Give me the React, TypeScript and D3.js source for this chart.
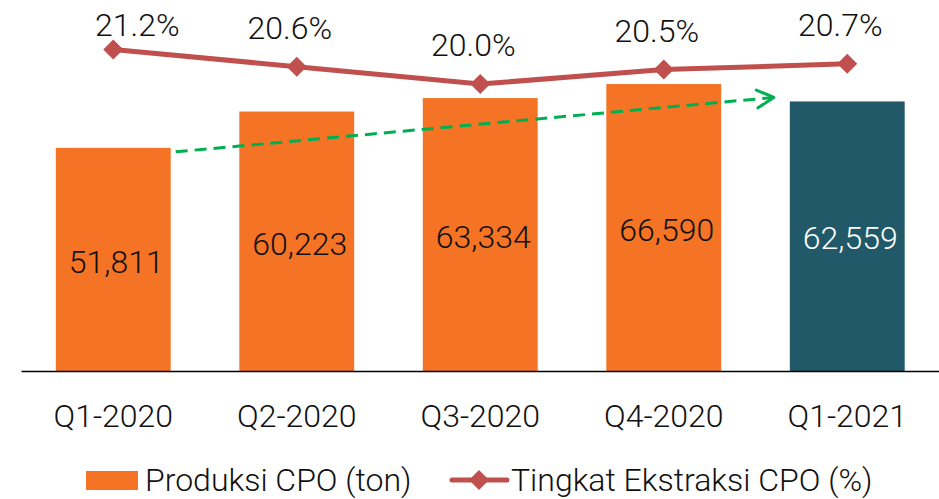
import * as d3 from 'd3'

const quarters = ['Q1-2020', 'Q2-2020', 'Q3-2020', 'Q4-2020', 'Q1-2021']
const production = [51811, 60223, 63334, 66590, 62559]
const extraction = [21.2, 20.6, 20.0, 20.5, 20.7]

const W = 939
const H = 499
const baseY = 371.5
const font = 'Roboto, "Noto Sans", sans-serif'
const fs = 32
const orange = '#F47324'
const teal = '#215968'
const red = '#C0504D'
const green = '#00B050'

function diamond(cx: number, cy: number, r: number) {
  return `M${cx},${cy - r}L${cx + r},${cy}L${cx},${cy + r}L${cx - r},${cy}Z`
}

export default function App() {
  const x = d3.scaleBand<string>().domain(quarters).range([21.5, W]).paddingInner(0.374).paddingOuter(0.187)
  const yBar = d3.scaleLinear().domain([0, 86060]).range([baseY, 0])
  const yLine = d3.scaleLinear().domain([10.05, 22.91]).range([baseY, 0])
  const bw = x.bandwidth()
  const cx = (q: string) => (x(q) ?? 0) + bw / 2

  const line = d3
    .line<number>()
    .x((_, i) => cx(quarters[i]))
    .y((d) => yLine(d))

  // green trend arrow: from first bar's top-right to just before the last bar
  const last = quarters.length - 1
  const ax0 = (x(quarters[0]) ?? 0) + bw + 5
  const ay0 = yBar(production[0]) + 4
  const ax1 = (x(quarters[last]) ?? 0) - 16
  const ay1 = yBar(production[last]) - 4
  const ang = Math.atan2(ay1 - ay0, ax1 - ax0)
  const arm = 19
  const spread = (28 * Math.PI) / 180
  const head = `M${ax1 - arm * Math.cos(ang - spread)},${ay1 - arm * Math.sin(ang - spread)}L${ax1},${ay1}L${
    ax1 - arm * Math.cos(ang + spread)
  },${ay1 - arm * Math.sin(ang + spread)}`

  return (
    <svg
      width={W}
      height={H}
      viewBox={`0 0 ${W} ${H}`}
      style={{ position: 'absolute', left: 0, top: 0, background: '#fff' }}
      fontFamily={font}
      fontWeight={300}
    >
      {quarters.map((q, i) => {
        const top = yBar(production[i])
        return (
          <g key={q}>
            <rect x={x(q)} y={top} width={bw} height={baseY - top} fill={i === last ? teal : orange} />
            <text
              x={cx(q) + 3}
              y={(top + baseY) / 2 + 13}
              textAnchor="middle"
              fontSize={fs}
              fill={i === last ? '#fff' : '#111'}
            >
              {d3.format(',')(production[i])}
            </text>
            <text x={cx(q)} y={427} textAnchor="middle" fontSize={fs} fill="#111">
              {q}
            </text>
          </g>
        )
      })}

      <line x1={21.5} x2={W} y1={baseY} y2={baseY} stroke="#000" strokeWidth={1.5} />

      <line x1={ax0} y1={ay0} x2={ax1} y2={ay1} stroke={green} strokeWidth={3} strokeDasharray="12 7" />
      <path d={head} fill="none" stroke={green} strokeWidth={3} strokeLinecap="round" strokeLinejoin="round" />

      <path d={line(extraction) ?? ''} fill="none" stroke={red} strokeWidth={5} />
      {extraction.map((v, i) => {
        const px = cx(quarters[i])
        const py = yLine(v)
        // first label sits tighter and to the right
        const lx = i === 0 ? px + 24 : px - 7
        const ly = i === 0 ? py - 13 : py - 28
        return (
          <g key={i}>
            <path d={diamond(px, py, 10)} fill={red} />
            <text x={lx} y={ly} textAnchor="middle" fontSize={fs} fill="#111">
              {v.toFixed(1)}%
            </text>
          </g>
        )
      })}

      <g>
        <rect x={86} y={471} width={52} height={19} fill={orange} />
        <text x={145} y={491} fontSize={fs} fill="#111">
          Produksi CPO (ton)
        </text>
        <line x1={452} x2={507} y1={480} y2={480} stroke={red} strokeWidth={5} strokeLinecap="round" />
        <path d={diamond(479, 480, 10)} fill={red} />
        <text x={511} y={491} fontSize={fs} fill="#111">
          Tingkat Ekstraksi CPO (%)
        </text>
      </g>
    </svg>
  )
}
